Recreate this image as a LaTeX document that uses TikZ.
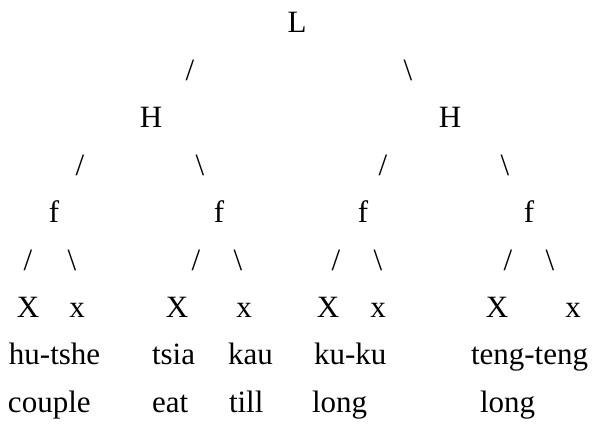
\documentclass[tikz,border=0pt]{standalone}
\usepackage{fontspec}
\setmainfont{Liberation Serif}
\begin{document}
\begin{tikzpicture}[x=1pt,y=-1pt,
  every node/.style={inner sep=0pt,outer sep=0pt,font=\fontsize{31}{31}\selectfont},
  lab/.style={anchor=base},
  word/.style={anchor=base west},
  branch/.style={anchor=base}]
\useasboundingbox (0,0) rectangle (595,425);
% tree labels
\node[lab] (L) at (297,33) {L};
\node[branch] (sL) at (190,80.4) {/};
\node[branch] (sR) at (408,80.4) {\textbackslash};
\node[lab] (H1) at (151,127.8) {H};
\node[lab] (H2) at (450,127.8) {H};
\node[branch] (s1) at (80,175.2) {/};
\node[branch] (s2) at (200,175.2) {\textbackslash};
\node[branch] (s3) at (383,175.2) {/};
\node[branch] (s4) at (505,175.2) {\textbackslash};
\node[lab] (f1) at (54,222.6) {f};
\node[lab] (f2) at (219,222.6) {f};
\node[lab] (f3) at (363,222.6) {f};
\node[lab] (f4) at (529,222.6) {f};
\node[branch] (t1) at (28,270) {/};
\node[branch] (t2) at (72,270) {\textbackslash};
\node[branch] (t3) at (196,270) {/};
\node[branch] (t4) at (238,270) {\textbackslash};
\node[branch] (t5) at (336,270) {/};
\node[branch] (t6) at (378,270) {\textbackslash};
\node[branch] (t7) at (508,270) {/};
\node[branch] (t8) at (550,270) {\textbackslash};
\node[lab] (X1) at (28,317.4) {X};
\node[lab] (x1) at (77,317.4) {x};
\node[lab] (X2) at (177,317.4) {X};
\node[lab] (x2) at (244,317.4) {x};
\node[lab] (X3) at (328,317.4) {X};
\node[lab] (x3) at (378,317.4) {x};
\node[lab] (X4) at (497,317.4) {X};
\node[lab] (x4) at (573,317.4) {x};
% syllables
\node[word] (w1) at (9,364.8) {hu-tshe};
\node[word] (w2) at (152,364.8) {tsia};
\node[word] (w3) at (228,364.8) {kau};
\node[word] (w4) at (314,364.8) {ku-ku};
\node[word] (w5) at (471,364.8) {teng-teng};
% glosses
\node[word] (g1) at (8,412.2) {couple};
\node[word] (g2) at (152,412.2) {eat};
\node[word] (g3) at (229,412.2) {till};
\node[word] (g4) at (312,412.2) {long};
\node[word] (g5) at (480,412.2) {long};
\end{tikzpicture}
\end{document}
